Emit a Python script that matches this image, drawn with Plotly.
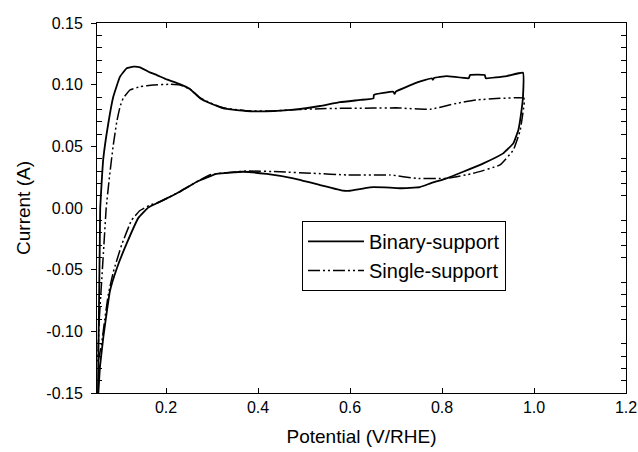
import plotly.graph_objects as go

# Binary-support CV loop (potential V/RHE, current A)
binary_x = [0.052, 0.053, 0.054, 0.055, 0.056, 0.057, 0.060, 0.0637, 0.0746, 0.0854, 0.100, 0.1146, 0.129,
            0.1435, 0.165, 0.180, 0.2015, 0.230, 0.252, 0.274, 0.296, 0.325, 0.375, 0.433, 0.484, 0.535,
            0.578, 0.622, 0.651, 0.652, 0.694, 0.697, 0.700, 0.745, 0.778, 0.780, 0.783, 0.810, 0.858,
            0.861, 0.893, 0.895, 0.941, 0.976, 0.976, 0.973, 0.966, 0.955, 0.933, 0.890, 0.846, 0.810,
            0.775, 0.752, 0.709, 0.687, 0.643, 0.600, 0.585, 0.535, 0.477, 0.419, 0.368, 0.310, 0.267,
            0.230, 0.2015, 0.180, 0.162, 0.140, 0.1146, 0.093, 0.078, 0.071, 0.0637, 0.0565, 0.053]
binary_y = [-0.150, -0.120, -0.090, -0.060, -0.030, 0.000, 0.020, 0.040, 0.0687, 0.0902, 0.1065, 0.1133, 0.1146,
            0.1141, 0.110, 0.1078, 0.1043, 0.1005, 0.0965, 0.089, 0.0849, 0.0808, 0.0786, 0.0786, 0.080, 0.0827,
            0.0858, 0.0876, 0.0889, 0.0918, 0.0943, 0.0925, 0.0945, 0.1016, 0.1052, 0.1040, 0.1055, 0.107, 0.1052,
            0.1078, 0.1078, 0.1052, 0.107, 0.1097, 0.090, 0.0795, 0.0632, 0.0524, 0.0443, 0.0362, 0.0294, 0.0241,
            0.020, 0.017, 0.016, 0.0165, 0.0168, 0.014, 0.014, 0.0186, 0.024, 0.0276, 0.0294, 0.0276, 0.0213,
            0.0132, 0.0078, 0.0038, 0.0005, -0.008, -0.0287, -0.049, -0.0675, -0.085, -0.105, -0.1287, -0.150]

# Single-support CV loop
single_x = [0.052, 0.055, 0.060, 0.065, 0.070, 0.077, 0.085, 0.093, 0.100, 0.107, 0.122, 0.1435, 0.172,
            0.209, 0.230, 0.252, 0.274, 0.296, 0.325, 0.375, 0.433, 0.484, 0.535, 0.578, 0.650, 0.700,
            0.774, 0.832, 0.875, 0.926, 0.978, 0.979, 0.977, 0.970, 0.955, 0.926, 0.868, 0.810, 0.745,
            0.687, 0.593, 0.520, 0.448, 0.375, 0.330, 0.296, 0.267, 0.230, 0.200, 0.180, 0.165, 0.1435,
            0.125, 0.1035, 0.0854, 0.0746, 0.067, 0.060, 0.052]
single_y = [-0.125, -0.090, -0.060, -0.030, 0.000, 0.025, 0.050, 0.070, 0.082, 0.089, 0.0957, 0.0984, 0.0997,
            0.1003, 0.0997, 0.0965, 0.0895, 0.0852, 0.0812, 0.0788, 0.0788, 0.0798, 0.0805, 0.0808, 0.081, 0.0812,
            0.080, 0.0849, 0.0876, 0.0889, 0.0892, 0.0860, 0.080, 0.063, 0.047, 0.0349, 0.0281, 0.024, 0.024,
            0.0268, 0.0268, 0.0281, 0.0294, 0.030, 0.0285, 0.027, 0.0213, 0.0132, 0.0075, 0.004, 0.0024, -0.002,
            -0.010, -0.030, -0.052, -0.070, -0.090, -0.110, -0.125]

x_ticks = [0.2, 0.4, 0.6, 0.8, 1.0, 1.2]
x_ticktext = ["0.2", "0.4", "0.6", "0.8", "1.0", "1.2"]
y_ticks = [-0.15, -0.10, -0.05, 0.00, 0.05, 0.10, 0.15]
y_ticktext = ["-0.15", "-0.10", "-0.05", "0.00", "0.05", "0.10", "0.15"]
y_minor = [round(-0.15 + 0.01 * i, 2) for i in range(31)]
y_minor_only = [v for v in y_minor if all(abs(v - t) > 1e-9 for t in y_ticks)]

FONT = "Liberation Sans, Arial, sans-serif"

fig = go.Figure()
fig.add_trace(go.Scatter(x=binary_x, y=binary_y, mode="lines", name="Binary-support",
                         line=dict(color="black", width=1.8, shape="spline", smoothing=0.3)))
fig.add_trace(go.Scatter(x=single_x, y=single_y, mode="lines", name="Single-support",
                         line=dict(color="black", width=1.5, dash="12px,3px,2px,3px,2px,3px",
                                   shape="spline", smoothing=0.3)))
fig.add_trace(go.Scatter(x=[None], y=[None], yaxis="y2", showlegend=False, hoverinfo="skip"))

fig.update_layout(
    width=638, height=452,
    margin=dict(l=97, r=12, t=23, b=59, autoexpand=False),
    paper_bgcolor="white", plot_bgcolor="white",
    font=dict(family=FONT, color="black", size=16),
    showlegend=True,
    legend=dict(x=0.3875, y=0.465, xanchor="left", yanchor="top",
                bordercolor="black", borderwidth=1, bgcolor="white",
                font=dict(family=FONT, size=20, color="black"),
                itemwidth=56, tracegroupgap=0),
    xaxis=dict(range=[0.05, 1.2], tickvals=x_ticks, ticktext=x_ticktext, automargin=False,
               showgrid=False, zeroline=False, showline=True, linecolor="black", linewidth=1,
               mirror="ticks", ticks="inside", ticklen=5, tickcolor="black",
               tickfont=dict(size=16),
               title=dict(text="Potential (V/RHE)", font=dict(size=19), standoff=14)),
    yaxis=dict(range=[-0.15, 0.15], tickvals=y_ticks, ticktext=y_ticktext, automargin=False,
               showgrid=False, zeroline=False, showline=True, linecolor="black", linewidth=1,
               mirror=True, ticks="outside", ticklen=5, tickcolor="black", ticklabelstandoff=5,
               minor=dict(tickvals=y_minor_only, ticks="inside", ticklen=5, tickcolor="black", showgrid=False),
               tickfont=dict(size=16),
               title=dict(text="Current (A)", font=dict(size=19), standoff=10)),
    yaxis2=dict(range=[-0.15, 0.15], overlaying="y", side="right", showgrid=False, zeroline=False,
                showline=False, tickvals=y_minor_only, ticks="inside", ticklen=5, tickcolor="black",
                showticklabels=False, automargin=False),
)

fig.write_html("out.html")
